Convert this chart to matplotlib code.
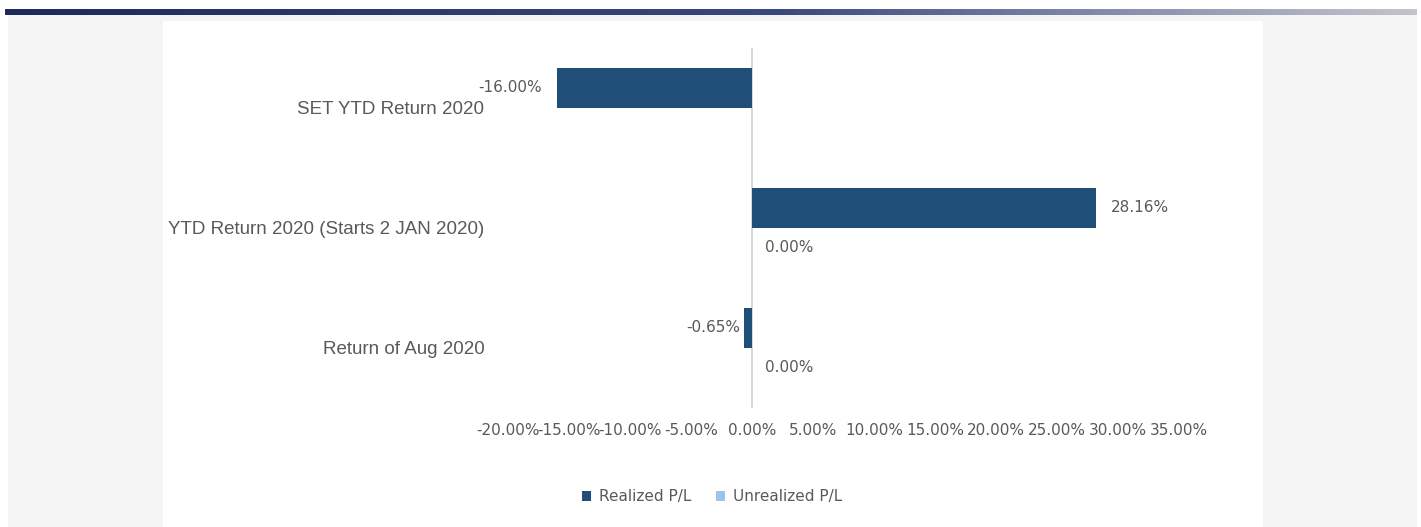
import numpy as np
import matplotlib
matplotlib.use('Agg')
from matplotlib import pyplot as plt
from matplotlib.patches import Rectangle, Patch
from matplotlib.colors import LinearSegmentedColormap

# data (percent)
categories = ['SET YTD Return 2020', 'YTD Return 2020 (Starts 2 JAN 2020)', 'Return of Aug 2020']
realized = [-16.00, 28.16, -0.65]
unrealized = [np.nan, 0.00, 0.00]
xticks = [-20, -15, -10, -5, 0, 5, 10, 15, 20, 25, 30, 35]

dark = '#1f4e79'
light = '#9dc3e6'
grey_txt = '#595959'

W, H = 1421, 527
fig = plt.figure(figsize=(W / 100, H / 100), dpi=100)
fig.patch.set_facecolor('white')

# page background: light grey band with white chart panel
fig.patches.append(Rectangle((8 / W, 0), 1409 / W, (H - 15) / H, transform=fig.transFigure,
                             facecolor='#f5f5f5', edgecolor='none', zorder=-2))
fig.patches.append(Rectangle((163 / W, 0), 1100 / W, (H - 21) / H, transform=fig.transFigure,
                             facecolor='white', edgecolor='none', zorder=-1))

# gradient header strip
bar_ax = fig.add_axes([5 / W, (H - 15) / H, 1412 / W, 6 / H])
cmap = LinearSegmentedColormap.from_list('hdr', [(0, '#1e2a5a'), (0.55, '#3a4880'),
                                                 (0.8, '#8a90ae'), (1, '#c4c4cc')])
bar_ax.imshow(np.linspace(0, 1, 256).reshape(1, -1), aspect='auto', cmap=cmap)
bar_ax.axis('off')

# main chart
ax = fig.add_axes([508 / W, (H - 408) / H, 671 / W, 360 / H])
ax.set_facecolor('none')

y = np.arange(len(categories))[::-1].astype(float)
h = 1 / 3
ax.barh(y + h / 2, realized, height=h, color=dark, label='Realized P/L', zorder=2)
ax.barh(y - h / 2, np.nan_to_num(unrealized), height=h, color=light, label='Unrealized P/L', zorder=2)

ax.axvline(0, color='#cfcfcf', linewidth=1.2, zorder=1)

# data labels
pads = [15, 15, 4]
for yi, v, p in zip(y, realized, pads):
    sign = -1 if v < 0 else 1
    ax.annotate(f'{v:.2f}%', (v, yi + h / 2), xytext=(sign * p * 0.72, 0), textcoords='offset points',
                ha='right' if v < 0 else 'left', va='center', fontsize=11, color=grey_txt)
for yi, v in zip(y, unrealized):
    if np.isnan(v):
        continue
    ax.annotate(f'{v:.2f}%', (v, yi - h / 2), xytext=(9, 0), textcoords='offset points',
                ha='left', va='center', fontsize=11, color=grey_txt)

ax.set_xlim(-20, 35)
ax.set_ylim(-0.5, 2.5)
ax.set_xticks(xticks)
ax.set_xticklabels([f'{t:.2f}%' for t in xticks], fontsize=11, color=grey_txt)
ax.set_yticks(y)
ax.set_yticklabels(categories, fontsize=13.5, color=grey_txt, family='Liberation Sans')
ax.tick_params(axis='x', length=0, pad=11)
ax.tick_params(axis='y', length=0, pad=17)
for s in ax.spines.values():
    s.set_visible(False)

handles = [Patch(facecolor=dark, label='Realized P/L'), Patch(facecolor=light, label='Unrealized P/L')]
leg = fig.legend(handles=handles, loc='center', bbox_to_anchor=(712 / W, 1 - 497 / H), ncol=2,
                 frameon=False, fontsize=11, handlelength=0.6, handleheight=0.6,
                 handletextpad=0.5, columnspacing=1.6)
for t in leg.get_texts():
    t.set_color(grey_txt)

fig.savefig('out.png', dpi=100)
